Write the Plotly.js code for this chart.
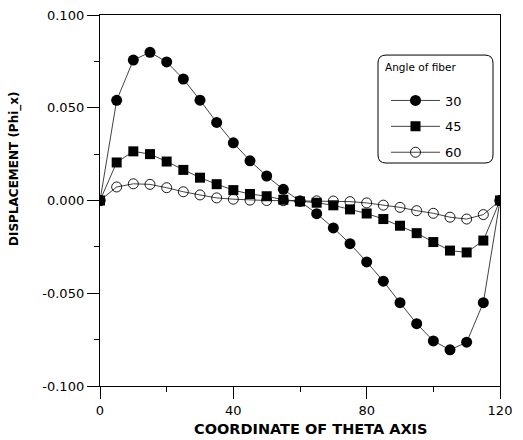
<!DOCTYPE html>
<html>
<head>
<meta charset="utf-8">
<script src="https://cdn.plot.ly/plotly-3.0.1.min.js"></script>
<style>html,body{margin:0;padding:0;background:#fff;}#chart{width:523px;height:440px;}</style>
</head>
<body>
<div id="chart"></div>
<script>
// Coordinate of theta axis
const theta = [0,5,10,15,20,25,30,35,40,45,50,55,60,65,70,75,80,85,90,95,100,105,110,115,120];
// Displacement Phi_x for each fiber angle
const phi30 = [0,0.0540,0.0757,0.0799,0.0747,0.0655,0.0541,0.0421,0.0311,0.0214,0.0132,0.0060,-0.0004,-0.0071,-0.0148,-0.0233,-0.0331,-0.0435,-0.0551,-0.0664,-0.0757,-0.0805,-0.0764,-0.0551,0];
const phi45 = [0,0.0205,0.0265,0.0250,0.0210,0.0165,0.0123,0.0088,0.0056,0.0035,0.0023,0.0004,-0.0005,-0.0012,-0.0026,-0.0048,-0.0070,-0.0100,-0.0136,-0.0176,-0.0224,-0.0270,-0.0280,-0.0216,0];
const phi60 = [0,0.0073,0.0090,0.0087,0.0069,0.0047,0.0030,0.0014,0.0007,0.0002,0.0000,-0.0001,-0.0002,-0.0002,-0.0003,-0.0006,-0.0013,-0.0025,-0.0037,-0.0055,-0.0069,-0.0090,-0.0100,-0.0076,0];
const seriesNames = ["30","45","60"];
const legendTitle = "Angle of fiber";
const xTitle = "COORDINATE OF THETA AXIS";
const yTitle = "DISPLACEMENT (Phi_x)";
const xTickVals = [0,40,80,120];
const xTickText = ["0","40","80","120"];
const yTickVals = [-0.1,-0.05,0,0.05,0.1];
const yTickText = ["-0.100","-0.050","0.000","0.050","0.100"];

const lineStyle = {color:'#111', width:0.8};
const traces = [
  {x:theta, y:phi30, name:seriesNames[0], legendgroup:'a', mode:'lines+markers', line:lineStyle,
   marker:{symbol:'circle', size:11, color:'#000'}},
  {x:theta, y:phi45, name:seriesNames[1], legendgroup:'b', mode:'lines+markers', line:lineStyle,
   marker:{symbol:'square', size:10, color:'#000'}},
  {x:theta, y:phi60, name:seriesNames[2], legendgroup:'c', mode:'lines+markers', line:lineStyle,
   marker:{symbol:'circle-open', size:10, color:'#000', line:{width:0.9}}}
];

// rounded legend frame (paper coords)
const bx0=0.695, bx1=0.9825, by0=0.601, by1=0.892, rx=0.02, ry=0.0216;
const framePath = `M ${bx0+rx},${by1} L ${bx1-rx},${by1} Q ${bx1},${by1} ${bx1},${by1-ry} L ${bx1},${by0+ry} Q ${bx1},${by0} ${bx1-rx},${by0} L ${bx0+rx},${by0} Q ${bx0},${by0} ${bx0},${by0+ry} L ${bx0},${by1-ry} Q ${bx0},${by1} ${bx0+rx},${by1} Z`;

const fam = 'DejaVu Sans, Arial, sans-serif';
const tickFont = {family:fam, size:13, color:'#000'};
const layout = {
  width:523, height:440,
  margin:{l:100, r:23, t:15, b:54},
  paper_bgcolor:'#fff', plot_bgcolor:'#fff',
  showlegend:true,
  legend:{x:0.715, y:0.81, xanchor:'left', yanchor:'top', bgcolor:'rgba(0,0,0,0)', borderwidth:0,
    font:{family:fam, size:13, color:'#000'},
    itemwidth:49, tracegroupgap:6, traceorder:'grouped'},
  xaxis:{range:[0,120], tickvals:xTickVals, ticktext:xTickText, ticks:'outside', ticklen:12, tickwidth:1, tickcolor:'#000',
    showline:true, linecolor:'#000', linewidth:1.2, mirror:true, showgrid:false, zeroline:false, tickfont:tickFont,
    minor:{tickvals:[20,60,100], ticks:'outside', ticklen:5, tickwidth:1, tickcolor:'#000', showgrid:false}},
  yaxis:{range:[-0.1,0.1], tickvals:yTickVals, ticktext:yTickText, ticks:'outside', ticklen:12, tickwidth:1, tickcolor:'#000',
    showline:true, linecolor:'#000', linewidth:1.2, mirror:true, showgrid:false, zeroline:false, tickfont:tickFont,
    minor:{tickvals:[-0.075,-0.025,0.025,0.075], ticks:'outside', ticklen:5, tickwidth:1, tickcolor:'#000', showgrid:false}},
  annotations:[
    {text:xTitle, xref:'paper', yref:'paper', x:0.525, y:-0.117, xanchor:'center', yanchor:'middle', showarrow:false,
     font:{family:fam, size:14.5, weight:'bold', color:'#000'}},
    {text:yTitle, xref:'paper', yref:'paper', x:-0.2125, y:0.585, xanchor:'center', yanchor:'middle', textangle:-90, showarrow:false,
     font:{family:fam, size:12, weight:'bold', color:'#000'}},
    {text:legendTitle, xref:'paper', yref:'paper', x:0.7075, y:0.86, xanchor:'left', yanchor:'middle', showarrow:false,
     font:{family:fam, size:10.5, color:'#000'}}
  ],
  shapes:[{type:'path', xref:'paper', yref:'paper', path:framePath, line:{color:'#000', width:1}, fillcolor:'rgba(0,0,0,0)', layer:'below'}]
};
Plotly.newPlot('chart', traces, layout, {displayModeBar:false, staticPlot:true});
</script>
</body>
</html>
